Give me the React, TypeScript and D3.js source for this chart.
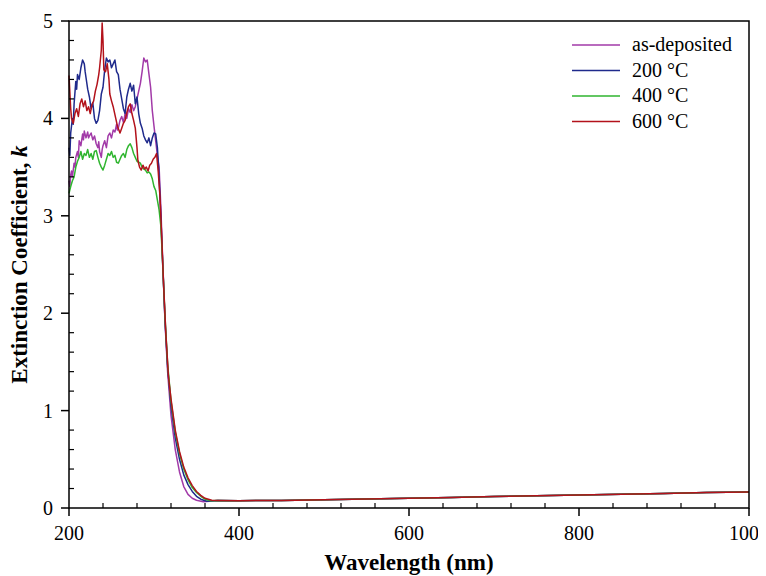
import React from "react";
import * as d3 from "d3";

// k vs wavelength
const seriesNames = ["as-deposited", "200 °C", "400 °C", "600 °C"];
const seriesColors = ["#a23aa8", "#1f2a8c", "#2fb52f", "#b3121b"];

const asDeposited: [number, number][] = [
  [200, 3.36], [201, 3.3], [202, 3.42], [203, 3.46], [204, 3.4], [206, 3.54], [207, 3.5], [208, 3.6], [210, 3.66], [211, 3.6], [212, 3.77], [214, 3.72],
  [216, 3.84], [217, 3.78], [218, 3.87], [220, 3.8], [222, 3.86], [223, 3.8], [224, 3.82], [226, 3.85], [228, 3.78], [230, 3.82],
  [232, 3.74], [234, 3.7], [235, 3.76], [236, 3.66], [238, 3.6], [239, 3.68], [240, 3.72], [242, 3.77], [244, 3.7], [246, 3.82],
  [248, 3.85], [250, 3.8], [252, 3.88], [254, 3.86], [256, 3.94], [257, 3.88], [258, 3.9], [260, 3.98], [262, 4.02],
  [264, 3.96], [266, 4.05], [268, 4.0], [270, 4.1], [272, 4.06], [274, 4.14], [276, 4.08], [278, 4.12],
  [280, 4.2], [282, 4.28], [284, 4.36], [286, 4.48], [288, 4.62], [290, 4.58], [292, 4.6], [294, 4.46],
  [296, 4.32], [298, 4.08], [300, 3.92], [302, 3.77], [304, 3.62], [306, 3.5], [308, 3.1], [310, 2.6],
  [313, 1.9], [316, 1.4], [320, 0.95], [325, 0.6], [330, 0.37], [335, 0.22], [340, 0.14], [345, 0.1],
  [350, 0.08], [358, 0.065],
];

const c200: [number, number][] = [
  [200, 3.7], [201, 3.62], [202, 3.85], [204, 4.0], [205, 3.94], [206, 4.15], [208, 4.38], [209, 4.3], [210, 4.45], [212, 4.4], [214, 4.52],
  [216, 4.6], [218, 4.56], [219, 4.48], [220, 4.42], [222, 4.3], [224, 4.22], [226, 4.1], [228, 4.16], [230, 4.0],
  [232, 3.95], [234, 3.98], [236, 4.08], [238, 4.25], [240, 4.32], [242, 4.5], [244, 4.62], [246, 4.58],
  [248, 4.6], [250, 4.52], [252, 4.56], [254, 4.6], [256, 4.48], [258, 4.45], [260, 4.3], [262, 4.2],
  [264, 4.1], [266, 4.05], [268, 4.22], [270, 4.3], [272, 4.36], [274, 4.28], [276, 4.34], [278, 4.15],
  [280, 4.22], [282, 4.05], [284, 3.95], [286, 3.9], [288, 3.82], [290, 3.78], [292, 3.75], [294, 3.8],
  [296, 3.72], [298, 3.8], [300, 3.85], [302, 3.84], [304, 3.7], [306, 3.4], [308, 3.0], [310, 2.55],
  [313, 1.92], [316, 1.45], [320, 1.05], [325, 0.72], [330, 0.5], [335, 0.34], [340, 0.24], [345, 0.17],
  [350, 0.12], [355, 0.09], [362, 0.07],
];

const c400: [number, number][] = [
  [200, 3.23], [202, 3.3], [204, 3.36], [206, 3.4], [208, 3.5], [210, 3.56], [212, 3.6], [214, 3.66],
  [216, 3.58], [218, 3.64], [220, 3.62], [222, 3.68], [224, 3.6], [226, 3.64], [228, 3.58], [230, 3.66],
  [232, 3.67], [234, 3.6], [236, 3.54], [238, 3.5], [240, 3.47], [242, 3.52], [244, 3.58], [246, 3.64],
  [248, 3.62], [250, 3.66], [252, 3.6], [254, 3.62], [256, 3.55], [258, 3.54], [260, 3.58], [262, 3.62],
  [264, 3.64], [266, 3.6], [268, 3.68], [270, 3.72], [272, 3.74], [274, 3.7], [276, 3.64], [278, 3.6],
  [280, 3.56], [282, 3.55], [284, 3.54], [286, 3.5], [288, 3.48], [290, 3.47], [292, 3.44], [294, 3.45],
  [296, 3.43], [298, 3.38], [300, 3.3], [302, 3.26], [304, 3.16], [306, 3.06], [308, 2.9], [310, 2.55],
  [313, 1.95], [316, 1.48], [320, 1.1], [325, 0.78], [330, 0.56], [335, 0.4], [340, 0.29], [345, 0.21],
  [350, 0.16], [355, 0.12], [360, 0.09], [367, 0.075],
];

const c600: [number, number][] = [
  [200, 4.44], [202, 4.1], [203, 4.0], [205, 3.95], [207, 4.05], [209, 4.1], [211, 4.02], [213, 4.15],
  [215, 4.2], [217, 4.12], [219, 4.18], [221, 4.08], [223, 4.12], [225, 4.05], [227, 4.14], [229, 4.18],
  [231, 4.28], [233, 4.35], [235, 4.45], [236, 4.52], [238, 4.7], [239, 4.98], [240, 4.8], [241, 4.5],
  [243, 4.48], [245, 4.56], [247, 4.4], [248, 4.25], [250, 4.18], [252, 4.12], [253, 4.08], [255, 4.0],
  [257, 3.92], [260, 3.85], [262, 3.9], [264, 3.95], [266, 3.98], [268, 4.06], [270, 4.12], [272, 4.15],
  [274, 4.05], [276, 3.98], [278, 3.9], [280, 3.7], [281, 3.57], [283, 3.5], [285, 3.47], [287, 3.52],
  [289, 3.48], [291, 3.5], [293, 3.46], [295, 3.52], [297, 3.54], [299, 3.58], [301, 3.6], [303, 3.64],
  [305, 3.45], [307, 3.2], [309, 2.8], [311, 2.35], [314, 1.78], [317, 1.35], [320, 1.12], [325, 0.8],
  [330, 0.58], [335, 0.42], [340, 0.31], [345, 0.23], [350, 0.17], [355, 0.13], [360, 0.1], [368, 0.08],
];

// shared flat tail past the absorption edge
const tail: [number, number][] = [
  [375, 0.078], [400, 0.075], [450, 0.078], [500, 0.085], [550, 0.092], [600, 0.1], [650, 0.108],
  [700, 0.117], [750, 0.125], [800, 0.133], [850, 0.142], [900, 0.15], [950, 0.158], [1000, 0.165],
];

const xTicks = [200, 400, 600, 800, 1000];
const yTicks = [0, 1, 2, 3, 4, 5];

const W = 766;
const H = 576;
const left = 69;
const right = 749;
const top = 21;
const bottom = 508;
const FONT = "Times New Roman";

export default function App() {
  const x = d3.scaleLinear().domain([200, 1000]).range([left, right]);
  const y = d3.scaleLinear().domain([0, 5]).range([bottom, top]);
  const line = d3
    .line<[number, number]>()
    .x((d) => x(d[0]))
    .y((d) => y(d[1]));

  const allSeries = [asDeposited, c200, c400, c600].map((s) => s.concat(tail));
  const xMinor = d3.range(200, 1001, 40).filter((v) => v % 200 !== 0);
  const yMinor = d3.range(0, 5.001, 0.2).filter((v) => Math.abs(v - Math.round(v)) > 0.01);

  return (
    <svg width={W} height={H} style={{ display: "block", overflow: "visible" }}>
      {/* body has an 8px margin; pull the drawing back to the page corner */}
      <g transform="translate(-8,-8)">
        {/* curves */}
        <g fill="none" strokeWidth={1.5} strokeLinejoin="round">
          {allSeries.map((s, i) => (
            <path key={i} d={line(s) || ""} stroke={seriesColors[i]} />
          ))}
        </g>

        {/* frame */}
        <rect x={left} y={top} width={right - left} height={bottom - top} fill="none" stroke="#000" strokeWidth={1.5} />

        {/* ticks */}
        {xTicks.map((t) => (
          <line key={"xt" + t} x1={x(t)} x2={x(t)} y1={bottom} y2={bottom + 8} stroke="#000" strokeWidth={1.5} />
        ))}
        {xMinor.map((t) => (
          <line key={"xm" + t} x1={x(t)} x2={x(t)} y1={bottom} y2={bottom - 5} stroke="#000" strokeWidth={1.2} />
        ))}
        {yTicks.map((t) => (
          <line key={"yt" + t} x1={left - 8} x2={left} y1={y(t)} y2={y(t)} stroke="#000" strokeWidth={1.5} />
        ))}
        {yMinor.map((t) => (
          <line key={"ym" + t} x1={left} x2={left + 5} y1={y(t)} y2={y(t)} stroke="#000" strokeWidth={1.2} />
        ))}

        {/* tick labels */}
        {xTicks.map((t) => (
          <text key={"xl" + t} x={x(t)} y={bottom + 32} textAnchor="middle" fontSize={20} fontFamily={FONT} style={{ fontFamily: FONT }}>
            {t}
          </text>
        ))}
        {yTicks.map((t) => (
          <text key={"yl" + t} x={left - 16} y={y(t) + 7} textAnchor="end" fontSize={20} fontFamily={FONT} style={{ fontFamily: FONT }}>
            {t}
          </text>
        ))}

        {/* axis titles */}
        <text
          x={(left + right) / 2}
          y={570}
          textAnchor="middle"
          fontSize={23}
          fontWeight="bold"
          fontFamily={FONT}
          style={{ fontFamily: FONT }}
        >
          Wavelength (nm)
        </text>
        <text
          transform={`translate(27,${(top + bottom) / 2}) rotate(-90)`}
          textAnchor="middle"
          fontSize={23}
          fontWeight="bold"
          fontFamily={FONT}
          style={{ fontFamily: FONT }}
        >
          Extinction Coefficient, <tspan fontStyle="italic">k</tspan>
        </text>

        {/* legend */}
        {seriesNames.map((n, i) => (
          <line key={"ll" + n} x1={572} x2={620} y1={45 + i * 25.5} y2={45 + i * 25.5} stroke={seriesColors[i]} strokeWidth={1.5} />
        ))}
        {seriesNames.map((n, i) => (
          <text key={"lt" + n} x={632} y={51 + i * 25.5} fontSize={20} fontFamily={FONT} style={{ fontFamily: FONT }}>
            {n}
          </text>
        ))}
      </g>
    </svg>
  );
}
